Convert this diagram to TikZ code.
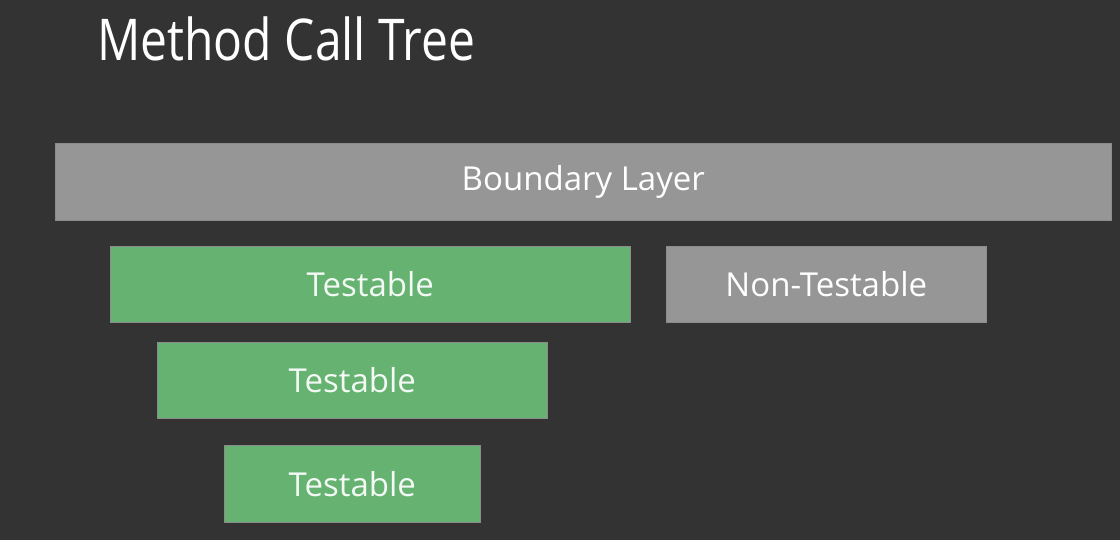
\documentclass[tikz,border=0pt]{standalone}
\usepackage{fontspec}
\setmainfont{Open Sans}
\definecolor{slide}{HTML}{333333}
\definecolor{layergray}{HTML}{969696}
\definecolor{testgreen}{HTML}{66B271}
\begin{document}
\begin{tikzpicture}[
            x=1pt, y=-1pt,
            box/.style = {rectangle, anchor=north west, inner sep=0pt, draw=black!45, line width=0.6pt, text=white, font=\fontsize{33}{36}\selectfont},
            layer/.style = {box, fill=layergray},
            testbox/.style = {box, fill=testgreen, text=white!92!testgreen}
          ]
          \fill[slide] (0,0) rectangle (1120,540);
          \useasboundingbox (0,0) rectangle (1120,540);
          \node[anchor=base west, inner sep=0pt, text=white, font=\fontsize{48}{52}\selectfont] (title) at (97,61) {\scalebox{1}[1.2]{Method Call Tree}};
          \node[layer, minimum width=1056pt, minimum height=77pt] (boundary) at (55,143) {Boundary Layer};
          \node[testbox, minimum width=520pt, minimum height=76pt] (test1) at (110,246) {Testable};
          \node[layer, minimum width=320pt, minimum height=76pt] (nontest) at (666,246) {Non-Testable};
          \node[testbox, minimum width=390pt, minimum height=76pt] (test2) at (157,342) {Testable};
          \node[testbox, minimum width=256pt, minimum height=77pt] (test3) at (224,445) {Testable};
        \end{tikzpicture}
\end{document}
